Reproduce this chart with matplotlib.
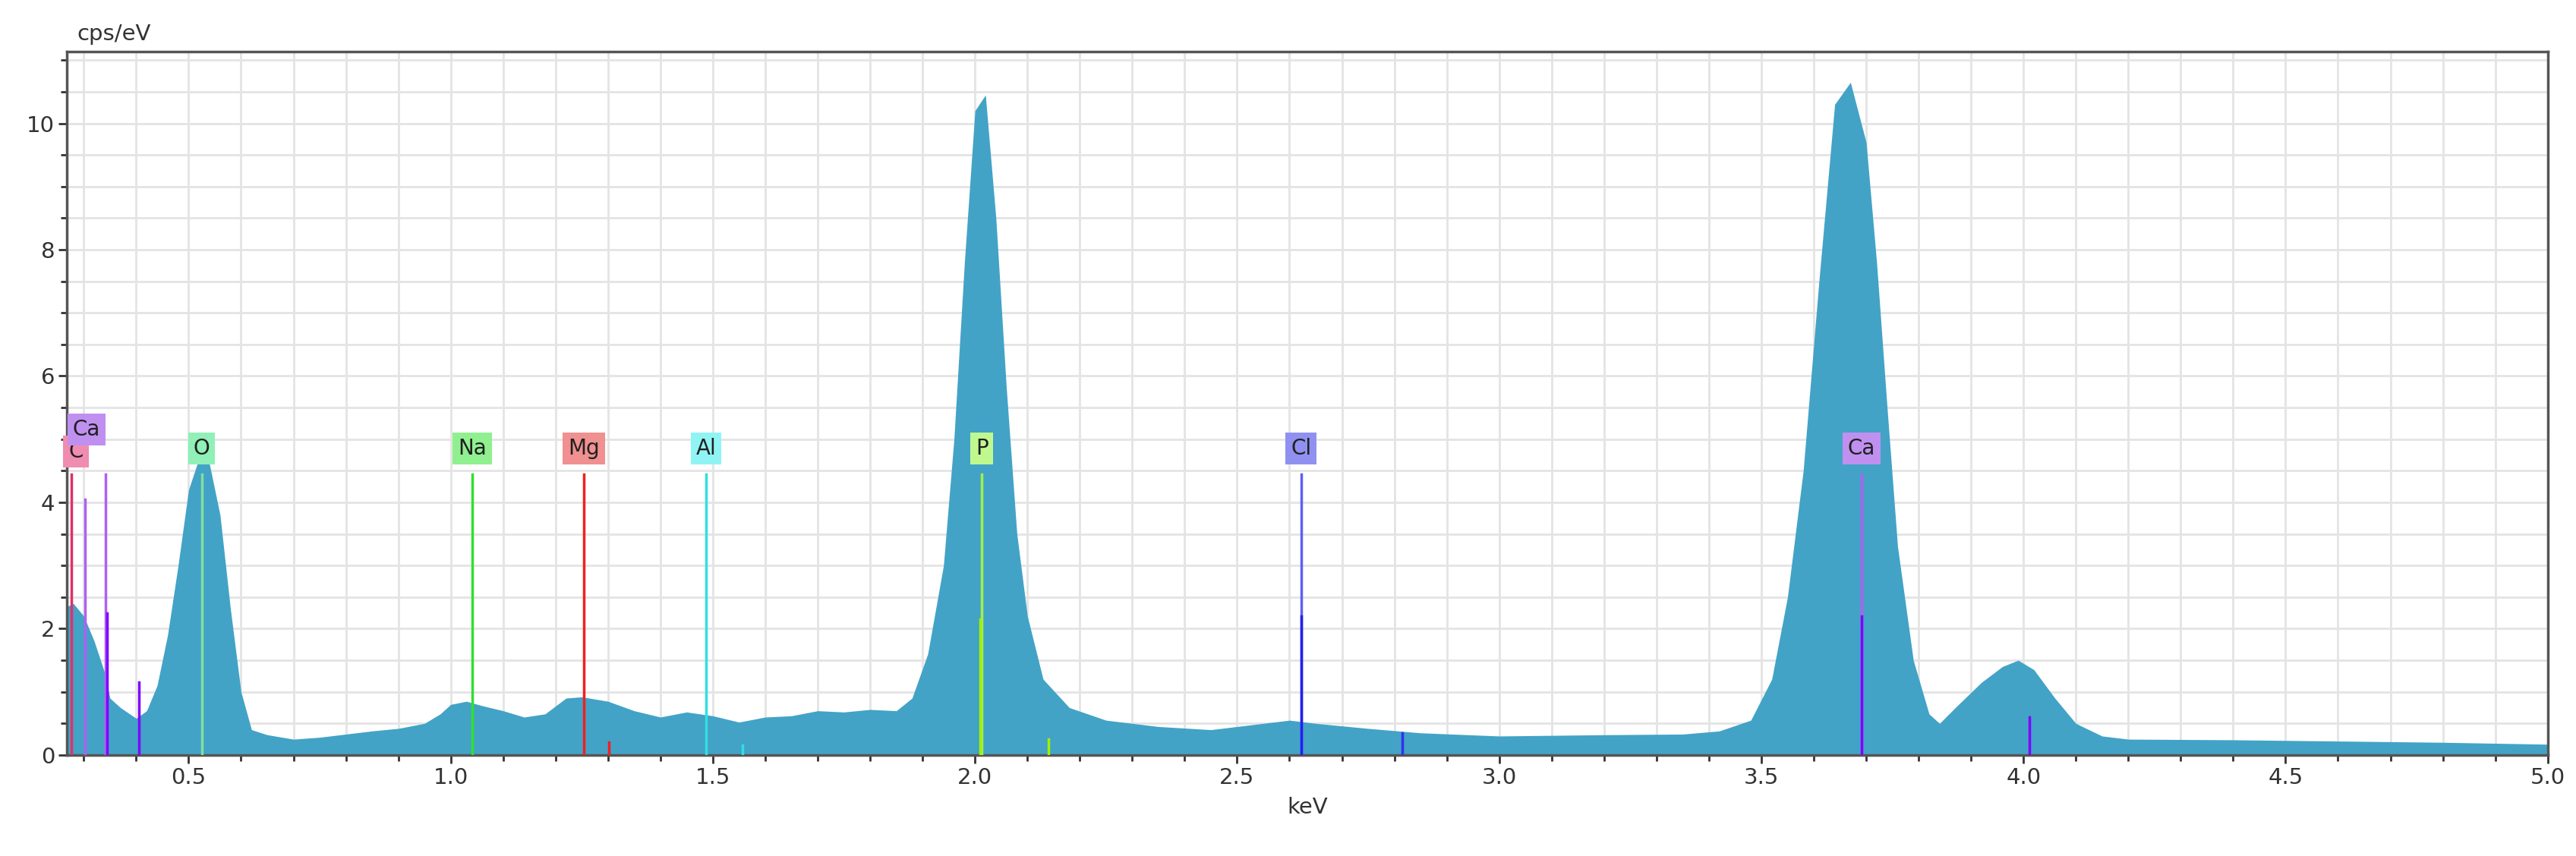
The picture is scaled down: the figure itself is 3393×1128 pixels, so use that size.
import numpy as np
import matplotlib
matplotlib.use("Agg")
import matplotlib.pyplot as plt
from matplotlib.ticker import MultipleLocator

# spectrum (keV, cps/eV)
kev = [0.268, 0.28, 0.30, 0.32, 0.34, 0.35, 0.37, 0.40, 0.42, 0.44, 0.46, 0.48, 0.50, 0.52, 0.54,
       0.56, 0.58, 0.60, 0.62, 0.65, 0.70, 0.75, 0.80, 0.85, 0.90, 0.95, 0.98, 1.00, 1.03, 1.06,
       1.10, 1.14, 1.18, 1.22, 1.25, 1.30, 1.35, 1.40, 1.45, 1.50, 1.55, 1.60, 1.65, 1.70, 1.75,
       1.80, 1.85, 1.88, 1.91, 1.94, 1.96, 1.98, 2.00, 2.02, 2.04, 2.06, 2.08, 2.10, 2.13, 2.18,
       2.25, 2.35, 2.45, 2.55, 2.60, 2.65, 2.75, 2.85, 3.00, 3.20, 3.35, 3.42, 3.48, 3.52, 3.55,
       3.58, 3.61, 3.64, 3.67, 3.70, 3.72, 3.74, 3.76, 3.79, 3.82, 3.84, 3.87, 3.92, 3.96, 3.99,
       4.02, 4.06, 4.10, 4.15, 4.20, 4.40, 4.60, 4.80, 5.00]
cps = [2.35, 2.4, 2.2, 1.8, 1.3, 0.9, 0.75, 0.58, 0.7, 1.1, 1.9, 3.0, 4.2, 4.7, 4.6,
       3.8, 2.3, 1.0, 0.4, 0.32, 0.25, 0.28, 0.33, 0.38, 0.42, 0.5, 0.65, 0.8, 0.85, 0.78,
       0.7, 0.6, 0.65, 0.9, 0.92, 0.85, 0.7, 0.6, 0.68, 0.62, 0.52, 0.6, 0.62, 0.7, 0.68,
       0.72, 0.7, 0.9, 1.6, 3.0, 5.0, 7.8, 10.2, 10.45, 8.5, 5.8, 3.5, 2.2, 1.2, 0.75,
       0.55, 0.45, 0.4, 0.5, 0.55, 0.5, 0.42, 0.35, 0.3, 0.32, 0.33, 0.38, 0.55, 1.2, 2.5,
       4.5, 7.5, 10.3, 10.65, 9.7, 7.8, 5.5, 3.3, 1.5, 0.65, 0.5, 0.75, 1.15, 1.4, 1.5,
       1.35, 0.9, 0.5, 0.3, 0.25, 0.24, 0.22, 0.2, 0.17]

# element marker lines: position, height, colour
line_pos = [0.277, 0.302, 0.341, 0.345, 0.405, 0.525, 1.041, 1.254, 1.302, 1.487, 1.557,
            2.013, 2.010, 2.140, 2.622, 2.622, 2.815, 3.691, 3.691, 4.012]
line_h = [4.45, 4.05, 4.45, 2.25, 1.15, 4.45, 4.45, 4.45, 0.2, 4.45, 0.15,
          4.45, 2.15, 0.25, 4.45, 2.2, 0.35, 4.45, 2.2, 0.6]
line_col = ['#e0306a', '#b060f0', '#b060f0', '#8000ff', '#8000ff', '#80e0a0', '#30e030', '#f02020',
            '#f02020', '#30e0e0', '#30e0e0', '#a0f050', '#a0f000', '#a0f000', '#6060f0', '#2020f0',
            '#3030f0', '#b060f0', '#8000ff', '#8000ff']

# element labels
lab_text = ['C', 'Ca', 'O', 'Na', 'Mg', 'Al', 'P', 'Cl', 'Ca']
lab_x = [0.285, 0.305, 0.525, 1.041, 1.254, 1.487, 2.013, 2.622, 3.691]
lab_y = [4.8, 5.15, 4.85, 4.85, 4.85, 4.85, 4.85, 4.85, 4.85]
lab_col = ['#f08cb0', '#c090f0', '#90f0b8', '#90f090', '#f09090', '#90f4f4', '#c0f890', '#9090f0', '#c090f0']

fig = plt.figure(figsize=(33.93, 11.28), dpi=100)
ax = fig.add_axes([0.026, 0.118, 0.963, 0.822])

ax.fill_between(kev, cps, 0, color='#42a3c6', linewidth=0, zorder=2)
for x, h, c in zip(line_pos, line_h, line_col):
    ax.plot([x, x], [0, h], color=c, linewidth=2.5, zorder=3)
for t, x, y, c in zip(lab_text, lab_x, lab_y, lab_col):
    ax.text(x, y, t, ha='center', va='center', fontsize=20, color='#202020', zorder=4,
            bbox=dict(boxstyle='square,pad=0.25', facecolor=c, edgecolor='none'))

ax.set_xlim(0.268, 5.0)
ax.set_ylim(0, 11.14)
ax.xaxis.set_major_locator(MultipleLocator(0.5))
ax.xaxis.set_minor_locator(MultipleLocator(0.1))
ax.yaxis.set_major_locator(MultipleLocator(2))
ax.yaxis.set_minor_locator(MultipleLocator(0.5))
ax.xaxis.set_major_formatter(matplotlib.ticker.FormatStrFormatter('%.1f'))
ax.grid(True, which='both', color='#e4e4e4', linewidth=2, zorder=0)
ax.set_axisbelow(True)
ax.tick_params(which='both', labelsize=21, colors='#333333', length=8, width=2)
ax.tick_params(which='minor', length=6)
for s in ax.spines.values():
    s.set_color('#555555')
    s.set_linewidth(2.5)
ax.set_xlabel('keV', fontsize=21, color='#333333', labelpad=8)
fig.text(0.03, 0.948, 'cps/eV', fontsize=21, color='#333333', ha='left', va='bottom')

fig.savefig('out.png', dpi=100)
